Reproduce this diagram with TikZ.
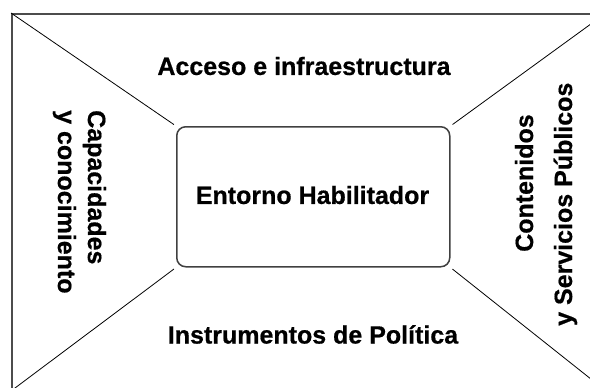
\documentclass[tikz,border=0pt]{standalone}
\usepackage{fontspec}
\setmainfont[BoldFeatures={FakeBold=0.6}]{Liberation Sans}
\begin{document}
\begin{tikzpicture}[x=1pt,y=-1pt,
  lbl/.style={font=\fontsize{25}{30}\selectfont\bfseries, inner sep=0pt},
  frame/.style={draw=black!70, line width=2pt},
  core/.style={draw=black!75, line width=1.5pt, rounded corners=9pt},
  diag/.style={draw=black, line width=0.8pt}]
\useasboundingbox (0,0) rectangle (590,388);
\begin{scope}
\clip (0,0) rectangle (590,388);
\node[frame, minimum width=593pt, minimum height=376pt, anchor=north west, inner sep=0pt] (outer) at (11,13) {};
\node[core, minimum width=273pt, minimum height=140pt, anchor=north west, inner sep=0pt] (center) at (176,126) {};
\draw[diag, shorten >=2.5pt] (outer.north west) -- (center.north west);
\draw[diag, shorten >=2.5pt] (outer.north east) -- (center.north east);
\draw[diag, shorten >=2.5pt] (outer.south west) -- (center.south west);
\draw[diag, shorten >=2.5pt] (outer.south east) -- (center.south east);
\end{scope}
\node[lbl] (ctr) at (312.5,195) {Entorno Habilitador};
\node[lbl] (top) at (304,66) {Acceso e infraestructura};
\node[lbl] (bot) at (313,334.5) {Instrumentos de Política};
\node[lbl, rotate=-90, anchor=base west] (cap1) at (88,110) {Capacidades};
\node[lbl, rotate=-90, anchor=base west] (cap2) at (58,110) {y conocimiento};
\node[lbl, rotate=90, anchor=base west] (con1) at (533,252) {Contenidos};
\node[lbl, rotate=90, anchor=base west] (con2) at (572,326) {y Servicios Públicos};
\end{tikzpicture}
\end{document}
